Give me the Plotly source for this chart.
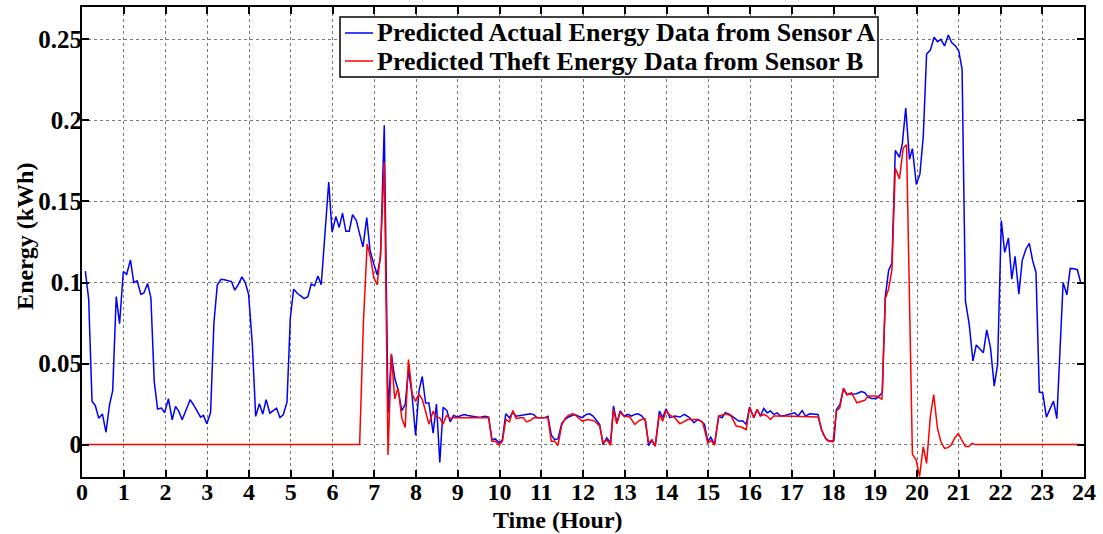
import plotly.graph_objects as go

# ---- Data (hours, kWh) ----
blue_t = [0.08, 0.16, 0.24, 0.32, 0.40, 0.49, 0.575, 0.656, 0.735, 0.82, 0.90, 0.99, 1.07, 1.16, 1.24, 1.32,
          1.41, 1.48, 1.57, 1.65, 1.73, 1.81, 1.90, 1.98, 2.07, 2.16, 2.24, 2.32, 2.40, 2.50, 2.59, 2.67,
          2.75, 2.84, 2.91, 2.99, 3.08, 3.16, 3.24, 3.33, 3.41, 3.50, 3.58, 3.66, 3.75, 3.83, 3.91, 3.99,
          4.08, 4.16, 4.25, 4.33, 4.41, 4.50, 4.57, 4.66, 4.74, 4.82, 4.91, 4.99, 5.07, 5.16, 5.24, 5.32,
          5.41, 5.49, 5.57, 5.65, 5.73, 5.82, 5.91, 5.99, 6.08, 6.16, 6.24, 6.32, 6.40, 6.48, 6.57, 6.65,
          6.73, 6.82, 6.90, 6.99, 7.07, 7.15, 7.24, 7.33, 7.41, 7.49, 7.57, 7.66, 7.74, 7.82, 7.90, 7.99,
          8.07, 8.15, 8.23, 8.31, 8.41, 8.49, 8.57, 8.65, 8.74, 8.82, 8.90, 8.99, 9.07, 9.15, 9.24, 9.32,
          9.40, 9.49, 9.57, 9.65, 9.74, 9.82, 9.90, 9.99, 10.07, 10.15, 10.24, 10.32, 10.40, 10.49, 10.57, 10.65,
          10.74, 10.82, 10.90, 10.99, 11.07, 11.16, 11.24, 11.32, 11.40, 11.49, 11.57, 11.65, 11.74, 11.80, 11.98, 12.08,
          12.16, 12.24, 12.32, 12.40, 12.48, 12.57, 12.66, 12.73, 12.81, 12.89, 12.98, 13.08, 13.16, 13.24, 13.32, 13.41,
          13.50, 13.57, 13.65, 13.73, 13.83, 13.91, 13.99, 14.08, 14.20, 14.32, 14.43, 14.55, 14.66, 14.75, 14.83, 14.91,
          14.99, 15.06, 15.15, 15.25, 15.33, 15.41, 15.51, 15.63, 15.73, 15.83, 15.91, 15.99, 16.09, 16.17, 16.25, 16.33,
          16.41, 16.49, 16.57, 16.65, 16.73, 16.83, 16.95, 17.07, 17.15, 17.25, 17.33, 17.43, 17.63, 17.71, 17.81, 17.91,
          18.01, 18.07, 18.15, 18.24, 18.32, 18.43, 18.55, 18.67, 18.75, 18.83, 18.91, 19.03, 19.11, 19.17, 19.24, 19.32,
          19.40, 19.48, 19.58, 19.65, 19.73, 19.82, 19.89, 19.985, 20.07, 20.15, 20.23, 20.32, 20.41, 20.49, 20.57, 20.66,
          20.75, 20.83, 20.92, 21.00, 21.08, 21.16, 21.25, 21.34, 21.42, 21.51, 21.59, 21.67, 21.76, 21.85, 21.93, 22.02,
          22.10, 22.19, 22.27, 22.35, 22.44, 22.52, 22.61, 22.69, 22.77, 22.85, 22.93, 23.01, 23.10, 23.18, 23.27, 23.35,
          23.43, 23.50, 23.59, 23.67, 23.76, 23.84, 23.92]
blue_v = [0.107, 0.0897, 0.0267, 0.024, 0.0163, 0.0188, 0.0076, 0.024, 0.0333, 0.0913, 0.0746, 0.1068, 0.105, 0.114, 0.100, 0.101,
          0.0928, 0.0934, 0.0994, 0.0907, 0.039, 0.0219, 0.0225, 0.0198, 0.0283, 0.0153, 0.0236, 0.0205, 0.0153, 0.0215, 0.0277, 0.0246,
          0.0213, 0.0169, 0.018, 0.0128, 0.0198, 0.0752, 0.0984, 0.102, 0.1017, 0.101, 0.1006, 0.0953, 0.099, 0.1035, 0.100, 0.0928,
          0.0618, 0.0174, 0.0252, 0.0188, 0.0277, 0.0194, 0.0209, 0.0225, 0.0167, 0.0184, 0.0262, 0.0783, 0.0959, 0.0932, 0.0918, 0.0901,
          0.0913, 0.099, 0.098, 0.104, 0.0986, 0.128, 0.162, 0.131, 0.1407, 0.134, 0.1428, 0.1316, 0.1316, 0.1418, 0.1383, 0.130,
          0.122, 0.140, 0.1197, 0.1114, 0.1048, 0.1155, 0.197, 0.0194, 0.0556, 0.0411, 0.0339, 0.0209, 0.0246, 0.0463, 0.0318, 0.0056,
          0.033, 0.042, 0.0256, 0.0256, 0.007, 0.025, -0.011, 0.023, 0.021, 0.014, 0.018, 0.017, 0.018, 0.0185, 0.018, 0.0175,
          0.017, 0.0168, 0.017, 0.0175, 0.017, 0.003, 0.0035, 0.001, 0.003, 0.019, 0.0165, 0.020, 0.0175, 0.018, 0.018, 0.0185,
          0.019, 0.0185, 0.0165, 0.0165, 0.0165, 0.0175, 0.006, 0.003, 0.0035, 0.013, 0.0155, 0.017, 0.018, 0.0186, 0.0166, 0.0186,
          0.019, 0.0176, 0.015, 0.0124, 0.000, 0.0041, 0.001, 0.0238, 0.0135, 0.0207, 0.0176, 0.0186, 0.0176, 0.0186, 0.019, 0.0176,
          0.0145, -0.0006, 0.0025, -0.001, 0.0207, 0.0166, 0.0221, 0.0166, 0.0176, 0.017, 0.0186, 0.0166, 0.0135, 0.0155, 0.0145, 0.0124,
          0.002, 0.0045, 0.000, 0.0176, 0.0166, 0.0197, 0.0186, 0.0166, 0.0145, 0.0145, 0.0124, 0.0232, 0.0165, 0.0217, 0.0176, 0.0223,
          0.0196, 0.0207, 0.0186, 0.0196, 0.0176, 0.018, 0.0186, 0.0196, 0.0176, 0.021, 0.0176, 0.019, 0.0186, 0.0093, 0.0037, 0.002,
          0.0025, 0.0217, 0.0244, 0.0347, 0.031, 0.0314, 0.0314, 0.0327, 0.032, 0.0294, 0.0285, 0.0285, 0.0306, 0.032, 0.091, 0.1075,
          0.112, 0.1815, 0.1773, 0.186, 0.2077, 0.176, 0.1826, 0.1605, 0.167, 0.19, 0.241, 0.2434, 0.2513, 0.2486, 0.25, 0.246,
          0.2527, 0.248, 0.246, 0.243, 0.2315, 0.0887, 0.0743, 0.0516, 0.0615, 0.0588, 0.0567, 0.0708, 0.0598, 0.0361, 0.0495, 0.1382,
          0.1186, 0.1275, 0.1021, 0.1161, 0.0928, 0.1135, 0.1207, 0.1242, 0.1135, 0.1062, 0.0324, 0.032, 0.0169, 0.0217, 0.0268, 0.0161,
          0.058, 0.100, 0.0924, 0.1087, 0.1085, 0.1079, 0.100]

red_t = [0.08, 6.65, 6.74, 6.83, 6.91, 6.99, 7.07, 7.15, 7.24, 7.33, 7.41, 7.49, 7.57, 7.66, 7.74, 7.82,
         7.91, 7.99, 8.07, 8.15, 8.23, 8.31, 8.41, 8.49, 8.57, 8.65, 8.73, 8.82, 8.90, 9.74, 9.82, 9.90,
         9.99, 10.07, 10.15, 10.24, 10.32, 10.40, 10.49, 10.57, 10.65, 10.74, 10.82, 11.16, 11.24, 11.32, 11.40, 11.49,
         11.57, 11.65, 11.74, 11.80, 11.98, 12.12, 12.28, 12.40, 12.48, 12.57, 12.66, 12.73, 12.81, 12.89, 12.98, 13.12,
         13.24, 13.36, 13.48, 13.57, 13.65, 13.73, 13.83, 13.91, 13.99, 14.08, 14.20, 14.32, 14.51, 14.75, 14.87, 14.99,
         15.07, 15.15, 15.25, 15.35, 15.43, 15.55, 15.67, 15.79, 15.91, 15.99, 16.09, 16.17, 16.25, 16.33, 16.41, 16.49,
         16.57, 16.79, 17.63, 17.75, 17.85, 17.99, 18.07, 18.15, 18.24, 18.32, 18.43, 18.56, 18.75, 18.83, 19.03, 19.16,
         19.24, 19.32, 19.40, 19.48, 19.58, 19.67, 19.75, 19.89, 19.98, 20.06, 20.15, 20.23, 20.32, 20.40, 20.49, 20.57,
         20.66, 20.74, 20.82, 20.90, 20.99, 21.07, 21.16, 21.24, 21.32, 21.40, 23.92]
red_v = [0.0, 0.0, 0.075, 0.1238, 0.1155, 0.103, 0.0986, 0.1176, 0.1744, -0.0064, 0.056, 0.0283, 0.0349, 0.0163, 0.0105, 0.0525,
         0.031, 0.0267, 0.031, 0.028, 0.0206, 0.0126, 0.0206, 0.017, 0.0165, 0.0126, 0.018, 0.016, 0.0165, 0.0165, 0.002, 0.002,
         -0.0003, 0.002, 0.0155, 0.014, 0.021, 0.016, 0.0165, 0.0165, 0.014, 0.015, 0.0165, 0.0165, 0.002, 0.002, -0.0005, 0.012,
         0.016, 0.018, 0.019, 0.0186, 0.0145, 0.0155, 0.0145, 0.0114, 0.001, 0.003, -0.0004, 0.0217, 0.0128, 0.020, 0.0176, 0.017,
         0.0124, 0.015, 0.016, 0.001, 0.003, -0.001, 0.0186, 0.0145, 0.0207, 0.0182, 0.0166, 0.0128, 0.0155, 0.0155, 0.0135, 0.001,
         0.0025, -0.0004, 0.0176, 0.0186, 0.019, 0.0176, 0.0114, 0.0108, 0.0093, 0.023, 0.0165, 0.0217, 0.0176, 0.0186, 0.0176, 0.0155,
         0.0176, 0.0176, 0.017, 0.0066, 0.0025, 0.0017, 0.0207, 0.0227, 0.0347, 0.0306, 0.032, 0.0258, 0.0273, 0.030, 0.030, 0.0279,
         0.090, 0.096, 0.108, 0.1705, 0.164, 0.183, 0.185, -0.006, -0.0095, -0.0198, -0.0012, -0.0116, 0.0174, 0.0308, 0.0101, 0.0019,
         -0.0023, -0.0019, -0.0002, 0.0039, 0.0068, 0.0029, -0.0012, -0.0012, 0.0008, 0.0, 0.0]

series_names = ["Predicted Actual Energy Data from Sensor A", "Predicted Theft Energy Data from Sensor B"]
series_colors = ["#0000FF", "#FF0000"]

x_ticks = list(range(0, 25))
y_ticks = [0, 0.05, 0.1, 0.15, 0.2, 0.25]
y_tick_labels = ["0", "0.05", "0.1", "0.15", "0.2", "0.25"]

FONT = "Liberation Serif"
def bfont(size):
    return dict(family=FONT, size=size, color="black", weight="bold")

fig = go.Figure()
for name, color, tt, vv in [(series_names[0], series_colors[0], blue_t, blue_v),
                             (series_names[1], series_colors[1], red_t, red_v)]:
    fig.add_trace(go.Scatter(x=tt, y=vv, mode="lines", name=name,
                             line=dict(color=color, width=1.5), showlegend=False))

axis_common = dict(
    showline=True, linecolor="black", linewidth=2, mirror="ticks",
    ticks="inside", ticklen=7, tickwidth=1.5, tickcolor="black",
    showgrid=True, gridcolor="#7a7a7a", gridwidth=1, griddash="dot",
    zeroline=False, automargin=False,
)

fig.update_xaxes(range=[0, 24], tickvals=x_ticks, ticktext=[str(v) for v in x_ticks],
                 ticklabelstandoff=-8, tickfont=bfont(24), **axis_common)
fig.update_yaxes(range=[-0.02, 0.27], tickvals=y_ticks, ticktext=y_tick_labels,
                 ticklabelstandoff=-7, tickfont=bfont(25), **axis_common)

# Legend box drawn in paper coordinates (top-centre of the plot)
LEG_X0, LEG_X1, LEG_Y0, LEG_Y1 = 0.2575, 0.7944, 0.851, 0.9787
ROW_Y = [0.9447, 0.8851]
shapes = [dict(type="rect", xref="paper", yref="paper", x0=LEG_X0, x1=LEG_X1, y0=LEG_Y0, y1=LEG_Y1,
               fillcolor="white", line=dict(color="black", width=1.5), layer="above")]
annotations = []
for name, color, ry in zip(series_names, series_colors, ROW_Y):
    shapes.append(dict(type="line", xref="paper", yref="paper", x0=0.2625, x1=0.2904, y0=ry, y1=ry,
                       line=dict(color=color, width=1.5), layer="above"))
    annotations.append(dict(text=name, xref="paper", yref="paper", x=0.2924, y=ry,
                            xanchor="left", yanchor="middle", showarrow=False, font=bfont(26)))

annotations += [
    dict(text="Time (Hour)", xref="paper", yref="paper", x=0.475, y=-0.091,
         xanchor="center", yanchor="middle", showarrow=False, font=bfont(24)),
    dict(text="Energy (kWh)", xref="paper", yref="paper", x=-0.0569, y=0.513,
         xanchor="center", yanchor="middle", showarrow=False, textangle=-90, font=bfont(24)),
]

fig.update_layout(
    width=1103, height=534,
    margin=dict(l=82, r=19, t=7, b=57, autoexpand=False),
    paper_bgcolor="white", plot_bgcolor="white",
    font=bfont(25),
    showlegend=False,
    shapes=shapes,
    annotations=annotations,
)

fig.write_html("out.html", config={"displayModeBar": False},
               post_script="document.body.style.margin='0';")
